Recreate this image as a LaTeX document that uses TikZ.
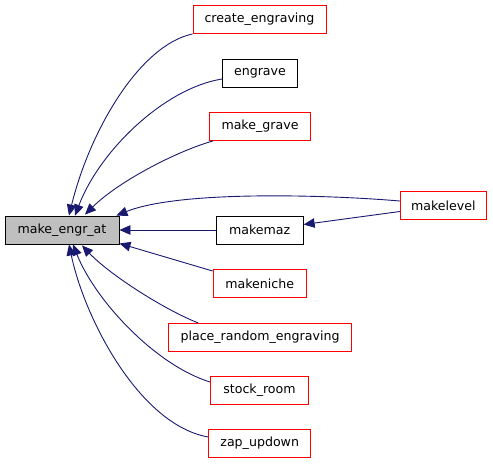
\documentclass[tikz,border=0pt]{standalone}
\usepackage{fontspec}
\setmainfont{DejaVu Sans}
\usetikzlibrary{arrows.meta,calc}
\definecolor{edgeblue}{HTML}{191970}
\definecolor{boxred}{HTML}{FF0000}
\definecolor{boxgrey}{HTML}{BFBFBF}
\tikzset{
  fnbox/.style={draw=boxred, fill=white, line width=0.9pt, minimum height=28pt, inner sep=0pt, font=\fontsize{12.6}{14}\selectfont},
  docbox/.style={fnbox, draw=black},
  rootbox/.style={fnbox, draw=black, fill=boxgrey},
  caller/.style={draw=edgeblue, line width=0.9pt, -{Triangle[length=11pt,width=9.5pt]}},
}
\begin{document}
\begin{tikzpicture}[x=1pt,y=-1pt]
\useasboundingbox (0,0) rectangle (493,464);
\node[rootbox, minimum width=114pt] (m) at (62,230) {make\_engr\_at};
\node[fnbox, minimum width=133pt] (ce) at (259.5,19.5) {create\_engraving};
\node[docbox, minimum width=75pt] (en) at (260,73) {engrave};
\node[fnbox, minimum width=101pt] (mg) at (260,126.5) {make\_grave};
\node[fnbox, minimum width=86pt] (ml) at (443.3,205.5) {makelevel};
\node[docbox, minimum width=87pt] (mm) at (259.7,230) {makemaz};
\node[fnbox, minimum width=93pt] (mn) at (259.7,283.5) {makeniche};
\node[fnbox, minimum width=183pt] (pr) at (260,337.3) {place\_random\_engraving};
\node[fnbox, minimum width=98pt] (sr) at (259.5,390) {stock\_room};
\node[fnbox, minimum width=102pt] (zu) at (259.7,443.5) {zap\_updown};

\draw[caller] (ce.south west) .. controls (140,45) and (90,130) .. ($(m.north)+(7,0)$);
\draw[caller] ($(en.west)+(0,6)$) .. controls (165,88) and (100,150) .. ($(m.north)+(13,0)$);
\draw[caller] ($(mg.south west)+(4,0)$) .. controls (180,150) and (120,180) .. ($(m.north)+(23,-1)$);
\draw[caller] ($(ml.west)+(0,-4.5)$) .. controls (330,195) and (180,190) .. ($(m.north east)+(-3,0)$);
\draw[caller] ($(ml.west)+(0,6)$) -- ($(mm.east)+(0,-5.5)$);
\draw[caller] (mm.west) -- (m.east);
\draw[caller] ($(mn.north west)+(0,2)$) -- ($(m.south east)+(0,-1)$);
\draw[caller] ($(pr.north west)+(30,0)$) .. controls (165,310) and (110,275) .. ($(m.south)+(20,1)$);
\draw[caller] ($(sr.west)+(0,-8)$) .. controls (155,365) and (95,300) .. ($(m.south)+(11,0)$);
\draw[caller] ($(zu.west)+(0,-6.5)$) .. controls (140,425) and (85,320) .. ($(m.south)+(7,0)$);
\end{tikzpicture}
\end{document}
